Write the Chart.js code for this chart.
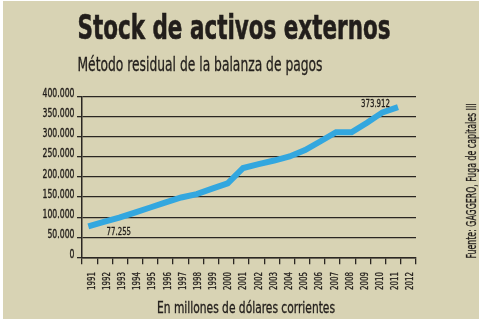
<!DOCTYPE html>
<html>
<head>
<meta charset="utf-8">
<script src="https://cdn.jsdelivr.net/npm/chart.js@4/dist/chart.umd.min.js"></script>
<style>
  html, body { margin: 0; padding: 0; background: #ffffff; }
  #wrap { position: relative; width: 482px; height: 324px; }
  canvas { display: block; }
</style>
</head>
<body>
<div id="wrap"><canvas id="chart" width="482" height="324"></canvas></div>
<script>
// Años del eje horizontal
const years = ['1991', '1992', '1993', '1994', '1995', '1996', '1997', '1998', '1999', '2000',
               '2001', '2002', '2003', '2004', '2005', '2006', '2007', '2008', '2009', '2010',
               '2011', '2012'];

// Stock de activos externos, en millones de dólares corrientes (sin dato para 2012)
const stock = [77255, 88500, 99000, 111500, 124000, 137000, 149000, 157500, 171000, 184000,
               222500, 232000, 241000, 251000, 267000, 289000, 311500, 311500, 335000, 361000,
               373912, null];

// Marcas del eje vertical
const yTicks = [0, 50000, 100000, 150000, 200000, 250000, 300000, 350000, 400000];

// Años cuyo valor se rotula sobre la línea
const labelledYears = ['1991', '2011'];

const titleText = 'Stock de activos externos';
const subtitleText = 'Método residual de la balanza de pagos';
const axisTitleText = 'En millones de dólares corrientes';
const sourceText = 'Fuente: GAGGERO, Fuga de capitales III';

const NARROW = '"Liberation Sans Narrow", "Arial Narrow", "DejaVu Sans Condensed", sans-serif';
const INK = '#221e1b';
const RULE = '#2a2622';
const PAPER = '#d8d3b4';
const LINE = '#33a7df';

const fmt = v => (v === 0 ? '0' : v.toLocaleString('de-DE'));

// Factor de compresión horizontal para que una muestra ocupe un ancho dado
function squeeze(ctx, font, sample, width) {
  ctx.save();
  ctx.font = font;
  const s = width / ctx.measureText(sample).width;
  ctx.restore();
  return s;
}

// Texto comprimido horizontalmente (opcionalmente girado 90° hacia arriba);
// "weight" engrosa levemente el trazo de los rótulos pequeños
function drawText(ctx, text, x, y, font, s, align, vertical, weight) {
  ctx.save();
  ctx.font = font;
  ctx.translate(x, y);
  if (vertical) ctx.rotate(-Math.PI / 2);
  ctx.scale(s, 1);
  ctx.textAlign = align;
  ctx.textBaseline = 'alphabetic';
  ctx.fillStyle = INK;
  ctx.fillText(text, 0, 0);
  if (weight) {
    ctx.strokeStyle = INK;
    ctx.lineWidth = weight;
    ctx.strokeText(text, 0, 0);
  }
  ctx.restore();
}

function fitText(ctx, text, x, y, font, width, align, vertical, weight) {
  drawText(ctx, text, x, y, font, squeeze(ctx, font, text, width), align, vertical, weight);
}

// Fondo, títulos, etiquetas de ejes, fuente y rótulos de valores
const decor = {
  id: 'decor',
  beforeDraw(chart) {
    const ctx = chart.ctx;
    ctx.save();
    ctx.fillStyle = '#ffffff';
    ctx.fillRect(0, 0, chart.width, chart.height);
    ctx.fillStyle = PAPER;
    ctx.fillRect(3, 1, 476, 318);
    ctx.restore();
  },
  afterDraw(chart) {
    const ctx = chart.ctx;
    fitText(ctx, titleText, 77.5, 39, 'bold 34px ' + NARROW, 313, 'left', false, 0.6);
    fitText(ctx, subtitleText, 77.5, 71, '19px ' + NARROW, 245, 'left', false, 0.3);
    fitText(ctx, axisTitleText, 246, 312.5, '15px ' + NARROW, 178, 'center', false, 0.3);
    fitText(ctx, sourceText, 475.5, 181, '14px ' + NARROW, 155, 'center', true, 0.3);

    // Etiquetas del eje vertical, apoyadas sobre cada línea de la grilla
    const ys = chart.scales.y;
    const yFont = '11.5px ' + NARROW;
    const ySq = squeeze(ctx, yFont, '400.000', 32);
    ys.ticks.forEach(t => {
      drawText(ctx, fmt(t.value), 74.5, ys.getPixelForValue(t.value) + 0.5, yFont, ySq, 'right', false, 0.35);
    });

    // Años del eje horizontal, verticales, centrados en cada intervalo
    const xs = chart.scales.x;
    const xFont = '10.5px ' + NARROW;
    const xSq = squeeze(ctx, xFont, '1991', 18);
    xs.ticks.forEach((t, i) => {
      drawText(ctx, years[i], xs.getPixelForTick(i) + 5, 272, xFont, xSq, 'right', true, 0.3);
    });
  },
  afterDatasetsDraw(chart) {
    const ctx = chart.ctx;
    const meta = chart.getDatasetMeta(0);
    const offsets = { '1991': { dx: 30.5, dy: 9.2 }, '2011': { dx: -22.5, dy: 0.3 } };
    const vFont = '10.5px ' + NARROW;
    const vSq = squeeze(ctx, vFont, '373.912', 29);
    labelledYears.forEach(yr => {
      const i = years.indexOf(yr);
      const pt = meta.data[i];
      const o = offsets[yr];
      drawText(ctx, fmt(stock[i]), pt.x + o.dx, pt.y + o.dy, vFont, vSq, 'center', false, 0.3);
    });
  }
};

new Chart(document.getElementById('chart'), {
  type: 'line',
  data: {
    labels: years,
    datasets: [{
      data: years.map((y, i) => ({ x: Number(y), y: stock[i] })),
      xAxisID: 'xl',
      yAxisID: 'y',
      borderColor: LINE,
      borderWidth: 6,
      pointRadius: 0,
      tension: 0,
      spanGaps: false,
      borderCapStyle: 'butt',
      borderJoinStyle: 'miter'
    }]
  },
  options: {
    responsive: false,
    animation: false,
    devicePixelRatio: 1,
    layout: { padding: { top: 96.7, right: 66, bottom: 0, left: 0 } },
    plugins: {
      legend: { display: false },
      tooltip: { enabled: false },
      title: { display: false }
    },
    scales: {
      x: {
        type: 'category',
        position: 'bottom',
        offset: true,
        grid: {
          offset: true,
          drawOnChartArea: false,
          drawTicks: true,
          tickLength: 7,
          color: RULE,
          lineWidth: 1.3
        },
        border: { display: true, color: RULE, width: 1.5 },
        ticks: { display: false, autoSkip: false },
        afterFit(scale) { scale.height = 66.7; }
      },
      xl: {
        type: 'linear',
        display: false,
        min: 1990.593,
        max: 2012.162
      },
      y: {
        type: 'linear',
        position: 'left',
        min: 0,
        max: 400000,
        afterBuildTicks(scale) { scale.ticks = yTicks.map(v => ({ value: v })); },
        grid: {
          color: RULE,
          lineWidth: 1.3,
          drawTicks: true,
          tickLength: 5
        },
        border: { display: true, color: RULE, width: 1.5 },
        ticks: { display: false },
        afterFit(scale) { scale.width = 82; }
      }
    }
  },
  plugins: [decor]
});
</script>
</body>
</html>
